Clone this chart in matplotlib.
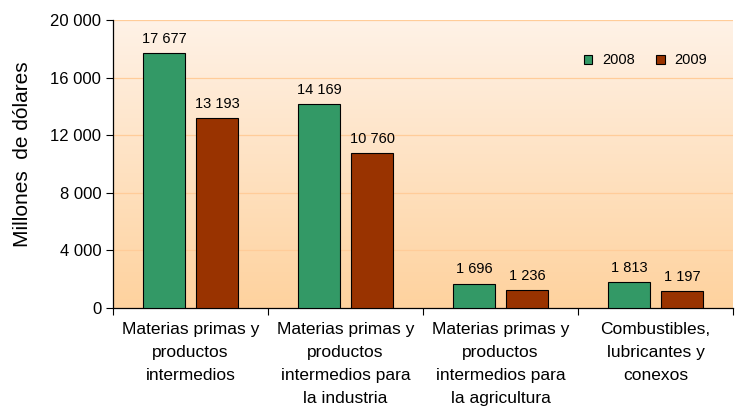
import numpy as np
import matplotlib.pyplot as plt
from matplotlib.colors import LinearSegmentedColormap

plt.rcParams['font.family'] = ['Liberation Sans', 'DejaVu Sans']

categories = ["Materias primas y\nproductos\nintermedios",
              "Materias primas y\nproductos\nintermedios para\nla industria",
              "Materias primas y\nproductos\nintermedios para\nla agricultura",
              "Combustibles,\nlubricantes y\nconexos"]
values_2008 = [17677, 14169, 1696, 1813]
values_2009 = [13193, 10760, 1236, 1197]
series_names = ["2008", "2009"]
colors = ["#339966", "#993300"]
y_ticks = [0, 4000, 8000, 12000, 16000, 20000]


def fmt(v):
    return "{:,}".format(v).replace(",", " ")


fig = plt.figure(figsize=(7.35, 4.15), dpi=100)
ax = fig.add_axes([113 / 735, 1 - 308 / 415, 620 / 735, 288 / 415])

# gradient background
cmap = LinearSegmentedColormap.from_list("bg", ["#FFD29E", "#FEF2E7"])
grad = np.linspace(0, 1, 256).reshape(-1, 1)
ax.imshow(grad, aspect="auto", cmap=cmap, origin="lower",
          extent=[0, 4, 0, 20000], zorder=0)

x = np.arange(len(categories)) + 0.5
w = 0.272
off = 0.171
b1 = ax.bar(x - off, values_2008, w, color=colors[0], edgecolor="black",
            linewidth=0.8, label=series_names[0], zorder=3)
b2 = ax.bar(x + off, values_2009, w, color=colors[1], edgecolor="black",
            linewidth=0.8, label=series_names[1], zorder=3)

for bars, vals in [(b1, values_2008), (b2, values_2009)]:
    for r, v in zip(bars, vals):
        ax.text(r.get_x() + r.get_width() / 2, v + 500, fmt(v),
                ha="center", va="bottom", fontsize=10.5, color="black")

ax.set_xlim(0, 4)
ax.set_ylim(0, 20000)
ax.set_yticks(y_ticks)
ax.set_yticklabels([fmt(t) for t in y_ticks], fontsize=12)
ax.yaxis.grid(True, color="#FFCC99", linewidth=0.9, zorder=1)
ax.set_axisbelow(True)

ax.set_xticks([0, 1, 2, 3, 4])
ax.set_xticklabels([])
ax.set_xticks(x, minor=True)
ax.set_xticklabels(categories, minor=True, fontsize=12.5, linespacing=1.66,
                   va="top")
ax.tick_params(axis="x", which="minor", length=0, pad=10)
ax.tick_params(axis="x", which="major", length=5, direction="out")
ax.tick_params(axis="y", length=5, direction="out")

for s in ["top", "right"]:
    ax.spines[s].set_visible(False)
ax.spines["left"].set_linewidth(0.9)
ax.spines["bottom"].set_linewidth(0.9)

ax.set_ylabel("Millones  de dólares", fontsize=15)
ax.yaxis.set_label_coords(-0.13, 0.535)

ax.legend(loc="upper right", bbox_to_anchor=(0.98, 0.93), frameon=False,
          ncol=2, fontsize=10.5, handlelength=0.55, handleheight=0.55,
          columnspacing=1.45, handletextpad=0.7)

fig.savefig("out.png", dpi=100)
